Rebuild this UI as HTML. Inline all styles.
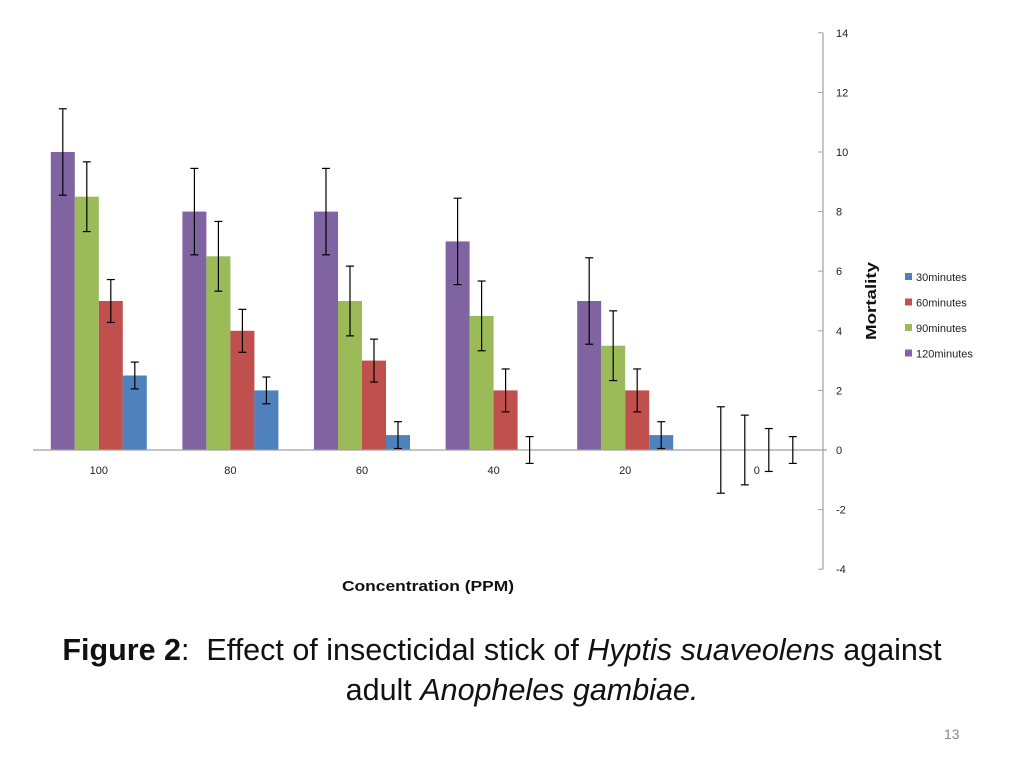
<!DOCTYPE html>
<html><head><meta charset="utf-8"><style>
body{margin:0;background:#fff;width:1024px;height:768px;overflow:hidden;font-family:"Liberation Sans",sans-serif}
svg text{font-family:"Liberation Sans",sans-serif}
</style></head><body>
<svg id="chart" width="1024" height="768" xmlns="http://www.w3.org/2000/svg"></svg>
<script>
const categories=["100","80","60","40","20","0"];
const series=["120minutes","90minutes","60minutes","30minutes"];
const colors=["#8064a2","#9bbb59","#c0504d","#4f81bd"];
const v120=[10,8,8,7,5,0];
const v90=[8.5,6.5,5,4.5,3.5,0];
const v60=[5,4,3,2,2,0];
const v30=[2.5,2,0.5,0,0.5,0];
const errs=[1.45,1.17,0.72,0.45];
const yTicks=[14,12,10,8,6,4,2,0,-2,-4];
const legendOrder=["30minutes","60minutes","90minutes","120minutes"];
const values=[v120,v90,v60,v30];
const svg=document.getElementById('chart');
const NS="http://www.w3.org/2000/svg";
function mk(t,a,txt){const e=document.createElementNS(NS,t);for(const k in a)e.setAttribute(k,a[k]);if(txt!==undefined)e.textContent=txt;svg.appendChild(e);return e;}
const y=v=>450-(v)*29.8;
const x0=33,slot=131.6,bw=24;
const cx=i=>x0+slot*i+slot/2;
let ax=mk('line',{x1:823,y1:y(14),x2:823,y2:y(-4),stroke:'#a0a0a0','stroke-width':1.2});

yTicks.forEach(t=>{
 let l=mk('line',{x1:818,y1:y(t),x2:823,y2:y(t),stroke:'#a0a0a0'});
 
 let tx=mk('text',{x:836,y:y(t)+4,'font-size':11,fill:'#222'},t);
 
});
categories.forEach((c,i)=>{
 series.forEach((s,j)=>{
  const v=values[j][i];const bx=cx(i)-48+j*bw;
  if(v!==0){let r=mk('rect',{x:bx,y:Math.min(y(v),y(0)),width:bw,height:Math.abs(y(v)-y(0)),fill:colors[j]});
  }
 });
});
let xa=mk('line',{x1:x0,y1:y(0),x2:827,y2:y(0),stroke:'#a0a0a0','stroke-width':1.2});

categories.forEach((c,i)=>{
 series.forEach((s,j)=>{
  const v=values[j][i];const ex=cx(i)-48+j*bw+bw/2;const e=errs[j];
  const g=document.createElementNS(NS,'g');svg.appendChild(g);
  
  [[ex,y(v+e),ex,y(v-e)],[ex-4,y(v+e),ex+4,y(v+e)],[ex-4,y(v-e),ex+4,y(v-e)]].forEach(p=>{
   const l=document.createElementNS(NS,'line');l.setAttribute('x1',p[0]);l.setAttribute('y1',p[1]);l.setAttribute('x2',p[2]);l.setAttribute('y2',p[3]);l.setAttribute('stroke','#000');l.setAttribute('stroke-width',1.2);g.appendChild(l);});
 });
 let t=mk('text',{x:cx(i),y:y(0)+24,'font-size':11,'text-anchor':'middle',fill:'#222'},c);
 
});
legendOrder.forEach((s,k)=>{
 const j=series.indexOf(s);const ly=277+k*25.5;
 let r=mk('rect',{x:905,y:ly-4,width:7,height:7,fill:colors[j]});
 
 let t=mk('text',{x:916,y:ly+4,'font-size':11,fill:'#222'},s);
 
});
let yt=mk('text',{x:-39,y:0,'font-size':15,'font-weight':'bold',textLength:78,lengthAdjust:'spacingAndGlyphs',transform:'translate(876,301) rotate(-90)',fill:'#111'},'Mortality');

let xt=mk('text',{x:342,y:591,'font-size':15,'font-weight':'bold',textLength:172,lengthAdjust:'spacingAndGlyphs',fill:'#111'},'Concentration (PPM)');

</script>
<div style="position:absolute;left:0;top:630px;width:1004px;text-align:center;font-size:30.5px;line-height:40px;color:#111">
<div><b>Figure 2</b>:&nbsp; Effect of insecticidal stick of <i>Hyptis suaveolens</i> against</div>
<div style="padding-left:40px">adult <i>Anopheles gambiae.</i></div></div>
<div style="position:absolute;left:944px;top:726px;font-size:14px;color:#888">13</div>
</body></html>
